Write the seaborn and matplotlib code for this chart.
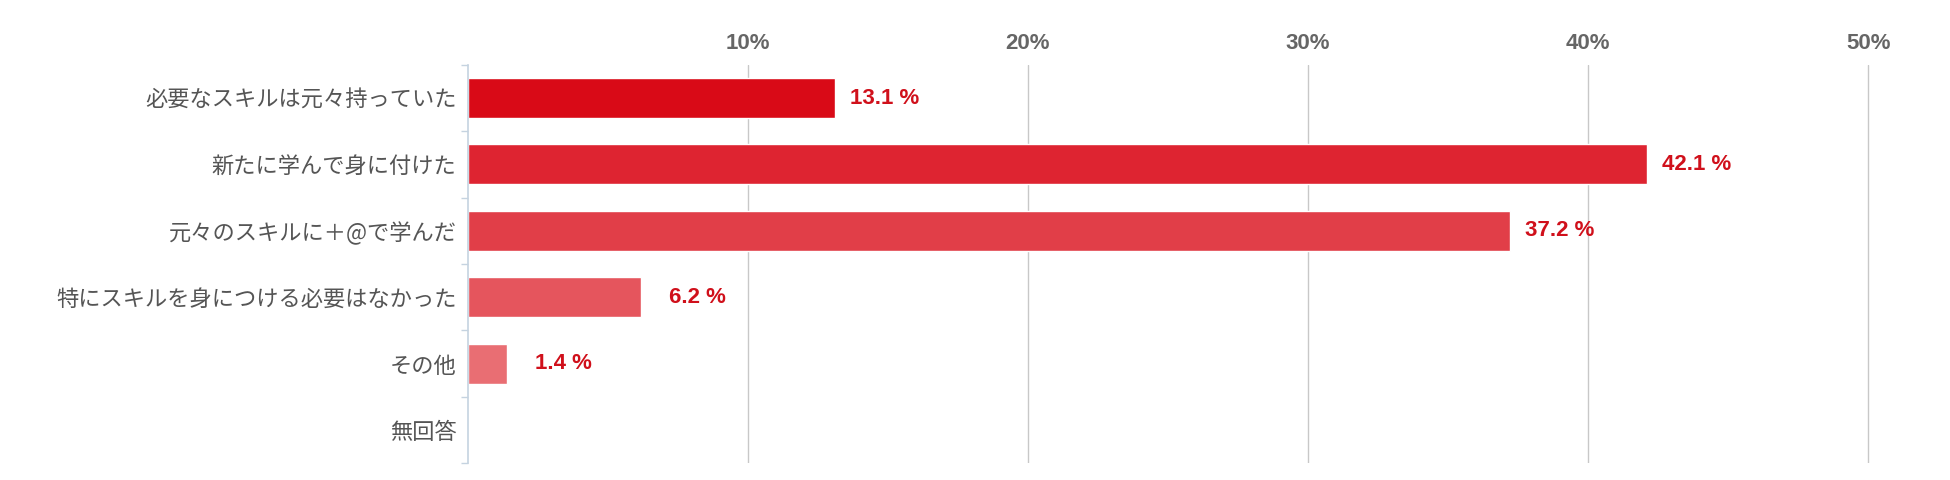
import pandas as pd
import seaborn as sns
from matplotlib import pyplot as plt

# answers and shares (percent)
answers = ["必要なスキルは元々持っていた", "新たに学んで身に付けた", "元々のスキルに＋@で学んだ",
           "特にスキルを身につける必要はなかった", "その他", "無回答"]
shares = [13.1, 42.1, 37.2, 6.2, 1.4, 0.0]
bar_colors = ["#d90a17", "#de2431", "#e13e48", "#e5555d", "#e96e73", "#ee8a8e"]
x_ticks = [10, 20, 30, 40, 50]
x_tick_labels = ["10%", "20%", "30%", "40%", "50%"]

df = pd.DataFrame({"answer": answers, "share": shares})

sns.set_theme(style="white")
plt.rcParams["font.family"] = ["Liberation Sans", "Noto Sans CJK JP", "DejaVu Sans"]

fig = plt.figure(figsize=(19.5, 4.8), dpi=100)
ax = fig.add_axes([0.2398, 0.035, 0.9623 - 0.2398, 0.83])

sns.barplot(data=df, x="share", y="answer", hue="answer", palette=bar_colors,
            legend=False, width=0.6, ax=ax, saturation=1)

ax.set_xlim(0, 50.3)
ax.set_ylim(5.5, -0.5)
ax.set_xlabel("")
ax.set_ylabel("")

# percent ticks on top, grey gridlines
ax.xaxis.tick_top()
ax.set_xticks(x_ticks)
ax.set_xticklabels(x_tick_labels, fontsize=16, fontweight="bold", color="#666666")
ax.tick_params(axis="x", length=0, pad=8)
ax.grid(axis="x", color="#c8c8c8", linewidth=1)
ax.set_axisbelow(True)

# category labels and little boundary ticks on the left spine
ax.set_yticks(range(len(answers)))
ax.set_yticklabels(answers, fontsize=16, color="#555555", family=["Noto Sans CJK JP"])
ax.tick_params(axis="y", which="major", length=0, pad=8)
ax.set_yticks([i - 0.5 for i in range(len(answers) + 1)], minor=True)
ax.tick_params(axis="y", which="minor", length=5, color="#c5d3e0", width=1, left=True)

for side in ["top", "right", "bottom"]:
    ax.spines[side].set_visible(False)
ax.spines["left"].set_color("#c5d3e0")
ax.spines["left"].set_linewidth(1.2)

# value labels: right-aligned in a fixed-width slot after each bar
for i, v in enumerate(shares):
    if v > 0:
        ax.annotate(f"{v} %", xy=(v, i), xytext=(61, 0), textcoords="offset points",
                    va="center", ha="right", fontsize=16, fontweight="bold", color="#d0101b")

fig.savefig("out.png", dpi=100)
